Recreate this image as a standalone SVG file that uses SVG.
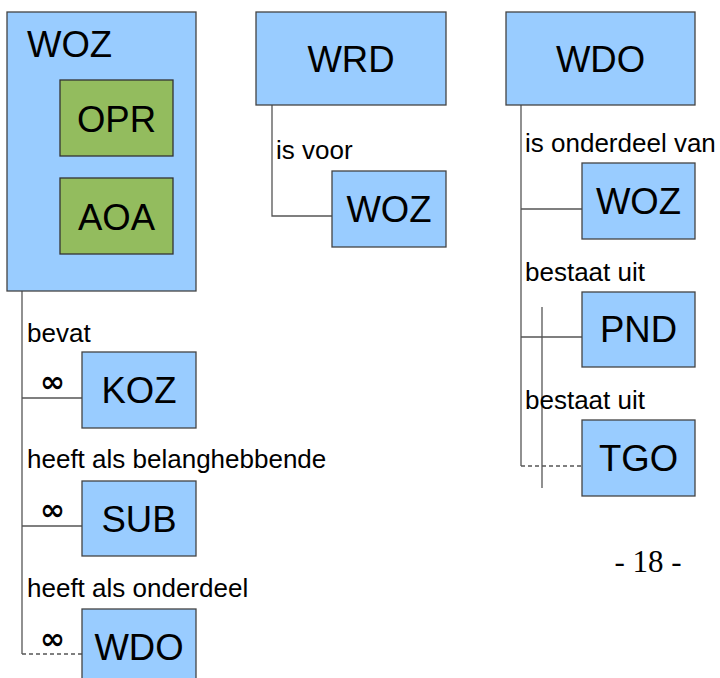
<svg xmlns="http://www.w3.org/2000/svg" width="720" height="678" viewBox="0 0 720 678">
<style>
.b{fill:#99ccff;stroke:#444;stroke-width:1.3}
.g{fill:#93bc5e;stroke:#333;stroke-width:1.3}
.t{font-family:"Liberation Sans",Arial,sans-serif;font-size:36.5px;fill:#000;text-anchor:middle}
.l{font-family:"Liberation Sans",Arial,sans-serif;font-size:26px;fill:#000}
.i{font-family:"DejaVu Sans",sans-serif;font-size:30px;font-weight:bold;fill:#000}
.c{stroke:#555;stroke-width:1.3;fill:none}
.d{stroke:#555;stroke-width:1.3;fill:none;stroke-dasharray:4 3}
</style>
<rect width="720" height="678" fill="#fff"/>
<g id="connectors">
<path class="c" d="M22 291V654"/>
<path class="c" d="M22 398H82"/>
<path class="c" d="M22 526H82"/>
<path class="d" d="M22 654H82"/>
<path class="c" d="M272 105V216H332"/>
<path class="c" d="M521 105V466"/>
<path class="c" d="M521 209H582"/>
<path class="c" d="M521 337H582"/>
<path class="d" d="M521 466H582"/>
<path class="c" d="M542 307V488"/>
</g>
<g id="labels">
<text class="l" x="27" y="342">bevat</text>
<text class="i" x="40" y="392">∞</text>
<text class="l" x="27" y="468">heeft als belanghebbende</text>
<text class="i" x="40" y="520">∞</text>
<text class="l" x="27" y="597">heeft als onderdeel</text>
<text class="i" x="40" y="649">∞</text>
<text class="l" x="276" y="159">is voor</text>
<text class="l" x="525" y="152">is onderdeel van</text>
<text class="l" x="525" y="281">bestaat uit</text>
<text class="l" x="525" y="409">bestaat uit</text>
</g>
<g id="WOZ-main">
<rect class="b" x="7" y="12" width="189" height="279"/>
<text class="t" x="27" y="57" style="text-anchor:start">WOZ</text>
</g>
<g id="OPR">
<rect class="g" x="60" y="80" width="113" height="76"/>
<text class="t" x="116.5" y="132">OPR</text>
</g>
<g id="AOA">
<rect class="g" x="60" y="178" width="113" height="76"/>
<text class="t" x="116.5" y="230">AOA</text>
</g>
<g id="KOZ">
<rect class="b" x="82" y="352" width="114" height="76"/>
<text class="t" x="139" y="403">KOZ</text>
</g>
<g id="SUB">
<rect class="b" x="82" y="481" width="114" height="75"/>
<text class="t" x="139" y="532">SUB</text>
</g>
<g id="WDO-left">
<rect class="b" x="82" y="609" width="114" height="76"/>
<text class="t" x="139" y="660">WDO</text>
</g>
<g id="WRD">
<rect class="b" x="256" y="12" width="190" height="93"/>
<text class="t" x="351" y="72">WRD</text>
</g>
<g id="WOZ-wrd">
<rect class="b" x="332" y="171" width="114" height="76"/>
<text class="t" x="389" y="222">WOZ</text>
</g>
<g id="WDO">
<rect class="b" x="506" y="12" width="189" height="93"/>
<text class="t" x="600.5" y="72">WDO</text>
</g>
<g id="WOZ-wdo">
<rect class="b" x="582" y="163" width="113" height="76"/>
<text class="t" x="638.5" y="214">WOZ</text>
</g>
<g id="PND">
<rect class="b" x="582" y="292" width="113" height="75"/>
<text class="t" x="638.5" y="342">PND</text>
</g>
<g id="TGO">
<rect class="b" x="582" y="420" width="113" height="76"/>
<text class="t" x="638.5" y="471">TGO</text>
</g>
<text x="648" y="572" style="font-family:'Liberation Serif','Times New Roman',serif;font-size:31px;text-anchor:middle">- 18 -</text>
</svg>
